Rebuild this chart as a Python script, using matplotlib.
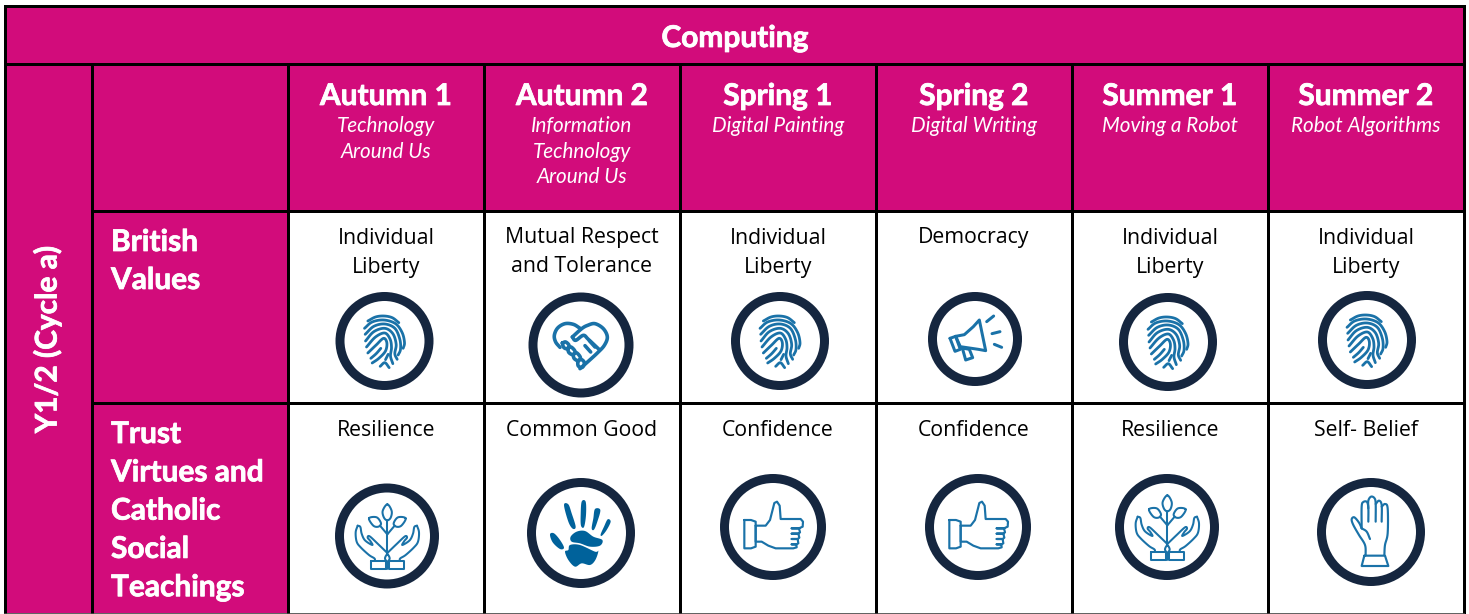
import numpy as np
import matplotlib
matplotlib.use("Agg")
import matplotlib.pyplot as plt
import matplotlib.patheffects as pe
from matplotlib.patches import Rectangle, Ellipse, Polygon

# ---------- content ----------
title = "Computing"
side_label = "Y1/2 (Cycle a)"
terms = ["Autumn 1", "Autumn 2", "Spring 1", "Spring 2", "Summer 1", "Summer 2"]
topics = [["Technology", "Around Us"], ["Information", "Technology", "Around Us"],
          ["Digital Painting"], ["Digital Writing"], ["Moving a Robot"], ["Robot Algorithms"]]
row_labels = [["British", "Values"],
              ["Trust", "Virtues and", "Catholic", "Social", "Teachings"]]
british_values = [["Individual", "Liberty"], ["Mutual Respect", "and Tolerance"],
                  ["Individual", "Liberty"], ["Democracy"],
                  ["Individual", "Liberty"], ["Individual", "Liberty"]]
virtues = [["Resilience"], ["Common Good"], ["Confidence"], ["Confidence"], ["Resilience"], ["Self- Belief"]]
british_icons = ["finger", "heart", "finger", "mega", "finger", "finger"]
virtue_icons = ["plant", "print", "thumb", "thumb", "plant", "hand"]

# ---------- layout (pixels) ----------
W, H = 1469, 614
col_x = [92, 288, 484, 680, 876, 1072, 1268, 1464]
row_y = [6, 64, 211, 403, 613]
left = 5
PINK, RING, BLUE, DEEP = "#d20c7b", "#15263f", "#1a72a8", "#00629b"
british_rings = [(384.5, 341, 49, 49), (581, 345, 52.5, 52.5), (780, 341, 49, 49),
                 (975, 339, 47, 47), (1168, 342, 49, 49), (1367, 340, 49, 49)]
virtue_rings = [(387, 536, 52, 52.5), (581, 533, 54, 55), (773, 527, 53, 53),
                (978, 527, 53, 53), (1167, 527, 52, 53), (1371, 532, 54, 54)]

plt.rcParams["font.family"] = ["Open Sans", "DejaVu Sans"]
fig = plt.figure(figsize=(W / 100, H / 100), dpi=100, facecolor="white")
ax = fig.add_axes([0, 0, 1, 1])
ax.set_xlim(0, W); ax.set_ylim(H, 0); ax.axis("off")


def rect(x0, y0, x1, y1, c):
    ax.add_patch(Rectangle((x0, y0), x1 - x0, y1 - y0, fc=c, ec="none", zorder=1))


rect(left, row_y[0], col_x[-1], row_y[1], PINK)
rect(left, row_y[1], col_x[0], row_y[4], PINK)
rect(col_x[0], row_y[1], col_x[-1], row_y[2], PINK)
rect(col_x[0], row_y[2], col_x[1], row_y[4], PINK)

LW = 3 * 0.72
line = dict(color="black", lw=LW, zorder=2, solid_capstyle="projecting")
ax.plot([left, col_x[-1]], [row_y[0]] * 2, **line)
ax.plot([left, col_x[-1]], [row_y[1]] * 2, **line)
for y in row_y[2:4]:
    ax.plot([col_x[0], col_x[-1]], [y, y], **line)
ax.plot([left, left], [row_y[0], row_y[-1]], color="black", lw=LW, zorder=2)
ax.plot([col_x[-1]] * 2, [row_y[0], row_y[-1]], color="black", lw=LW, zorder=2)
for x in col_x[:-1]:
    ax.plot([x, x], [row_y[1], row_y[-1]], **line)
ax.plot([left, col_x[-1]], [613.5, 613.5], color="#444444", lw=1.2, zorder=2)


# ---------- icon drawing ----------
def smooth(p, closed=False, n=8):
    p = np.asarray(p, float)
    if len(p) < 3:
        return p
    if closed:
        q = np.vstack([p[-1], p, p[0], p[1]])
    else:
        q = np.vstack([2 * p[0] - p[1], p, 2 * p[-1] - p[-2]])
    out = []
    for i in range(1, len(q) - 2):
        t = np.linspace(0, 1, n, endpoint=False)[:, None]
        a, b, c, d = q[i - 1], q[i], q[i + 1], q[i + 2]
        out.append(0.5 * (2 * b + (c - a) * t + (2 * a - 5 * b + 4 * c - d) * t ** 2
                          + (3 * b - a - 3 * c + d) * t ** 3))
    out = np.vstack(out)
    return np.vstack([out, q[-2]])


def mirror(p, cx):
    return [(2 * cx - x, y) for x, y in p]


ICONS = {}
# crop-space traces: centre, reference radius, strokes, fills
ICONS["finger"] = dict(c=(87, 90), r=49, lw=2.3, s=[
    [(37, 30), (60, 18), (85, 15), (110, 20), (130, 35)],
    [(27, 52), (50, 33), (85, 27), (120, 38), (140, 65), (147, 95), (143, 112)],
    [(29, 70), (55, 46), (88, 39), (118, 52), (133, 85), (135, 115), (128, 132)],
    [(30, 90), (55, 62), (88, 52), (112, 68), (122, 100), (118, 128), (125, 145)],
    [(33, 108), (60, 78), (88, 66), (104, 85), (108, 110), (105, 135), (112, 158)],
    [(37, 126), (62, 102), (84, 82), (94, 95), (90, 120), (70, 142), (50, 156)],
    [(46, 142), (62, 128), (76, 112)],
    [(74, 166), (88, 155), (101, 170)],
    [(90, 146), (98, 130)],
])
ICONS["heart"] = dict(c=(108, 99), r=52.5, lw=3.0, s=[
    [(104, 48), (85, 37), (60, 35), (38, 48), (28, 70), (32, 90), (45, 106)],
    [(82, 75), (110, 50), (128, 40), (150, 35), (175, 50), (187, 75), (178, 100), (158, 122),
     (132, 146), (105, 170)],
    [(82, 75), (92, 85), (115, 70), (130, 82), (162, 112)],
    [(150, 105), (133, 86)], [(137, 120), (120, 101)],
    [(52, 93), (62, 90), (72, 100), (66, 110), (56, 106), (52, 93)],
    [(68, 110), (78, 105), (90, 118), (84, 128), (72, 122), (68, 110)],
    [(84, 128), (94, 122), (106, 136), (100, 146), (88, 140), (84, 128)],
    [(98, 148), (108, 142), (118, 152), (112, 166), (100, 162), (98, 148)],
])
_hand = [(38, 92), (32, 112), (35, 140), (47, 157), (72, 180), (88, 190), (90, 197)]
_inner = [(38, 92), (46, 96), (50, 116), (60, 136), (82, 150), (76, 138), (68, 128), (74, 124),
          (100, 148), (127, 174)]
_leaf = [(72, 70), (95, 67), (108, 85), (100, 95), (85, 92)]
ICONS["plant"] = dict(c=(126, 123), r=52, lw=1.7, s=[
    [(127, 76), (127, 178)], [(127, 200), (127, 222)],
    [(105, 92), (127, 118)], [(149, 92), (127, 118)],
    _hand, mirror(_hand, 127), _inner, mirror(_inner, 127),
], closed=[
    [(127, 28), (140, 48), (137, 68), (127, 76), (117, 68), (113, 48)],
    _leaf, mirror(_leaf, 127),
    [(127, 178), (134, 190), (127, 200), (120, 190)],
], poly=[[(78, 197), (122, 197), (122, 222), (78, 222)],
         [(132, 197), (176, 197), (176, 222), (132, 222)]])
ICONS["print"] = dict(c=(123, 114), r=54, fill=[
    [(72, 30), (85, 28), (95, 55), (107, 95), (98, 101), (85, 80)],
    [(125, 20), (137, 20), (138, 60), (132, 96), (123, 92), (122, 60)],
    [(165, 42), (181, 45), (172, 80), (162, 104), (155, 100), (160, 70)],
    [(203, 73), (212, 80), (200, 105), (186, 122), (182, 118), (192, 95)],
    [(30, 118), (42, 115), (60, 135), (72, 158), (60, 162), (38, 142)],
    [(92, 125), (110, 110), (135, 108), (160, 125), (187, 135), (180, 152), (150, 155),
     (120, 145), (95, 140)],
    [(90, 150), (120, 150), (165, 170), (175, 168), (166, 195), (150, 210), (125, 205),
     (105, 215), (85, 195), (75, 170), (85, 165)],
])
ICONS["thumb"] = dict(c=(114, 96), r=53, lw=1.8, poly=[
    [(28, 75), (48, 75), (62, 80), (62, 155), (48, 160), (28, 160)],
    [(62, 92), (92, 92), (105, 75), (114, 40), (118, 24), (126, 20), (134, 32), (137, 72),
     (197, 72), (204, 80), (203, 95), (192, 100), (170, 100), (192, 100), (195, 112), (190, 116),
     (170, 116), (190, 116), (193, 128), (188, 132), (170, 132), (188, 132), (190, 145), (184, 148),
     (170, 148), (184, 148), (185, 157), (175, 160), (122, 160), (100, 152), (80, 140), (62, 140)],
])
ICONS["hand"] = dict(c=(108, 126), r=54, lw=1.8, s=[
    [(92, 196), (90, 165), (72, 135), (55, 105), (50, 88), (58, 82), (72, 98), (80, 115)],
    [(80, 115), (80, 50), (85, 36), (96, 36), (100, 55), (100, 95)],
    [(100, 55), (100, 32), (108, 20), (118, 24), (122, 40), (122, 95)],
    [(122, 42), (132, 32), (140, 45), (140, 95)],
    [(140, 50), (150, 42), (158, 55), (158, 130), (150, 165), (148, 196)],
    [(80, 115), (95, 125), (105, 147)],
], poly=[[(88, 197), (150, 197), (160, 228), (80, 228)]])
ICONS["mega"] = dict(c=(90, 87), r=47, lw=2.5, poly=[
    [(15, 85), (32, 79), (46, 118), (30, 124)],
    [(32, 79), (58, 74), (85, 50), (103, 30), (122, 122), (100, 118), (46, 110)],
    [(52, 114), (62, 150), (83, 143), (73, 118)],
], s=[[(125, 35), (146, 18)], [(141, 71), (165, 65)], [(148, 103), (170, 112)]])


def draw_icon(name, ring):
    cx, cy, rx, ry = ring
    ax.add_patch(Ellipse((cx, cy), 2 * rx - 9, 2 * ry - 9, fc="white", ec=RING, lw=9 * 0.72, zorder=3))
    ic = ICONS[name]
    k = rx / ic["r"]

    def tr(p):
        p = np.asarray(p, float)
        return np.c_[cx + (p[:, 0] - ic["c"][0]) / 3 * k, cy + (p[:, 1] - ic["c"][1]) / 3 * k]

    lw = ic.get("lw", 1.5) * 0.72 * 1.2
    kw = dict(color=BLUE, lw=lw, zorder=4, solid_capstyle="round", solid_joinstyle="round")
    for s in ic.get("s", []):
        q = tr(smooth(s))
        ax.plot(q[:, 0], q[:, 1], **kw)
    for s in ic.get("closed", []):
        q = tr(smooth(s, closed=True))
        ax.plot(q[:, 0], q[:, 1], **kw)
    for s in ic.get("poly", []):
        q = tr(list(s) + [s[0]])
        ax.plot(q[:, 0], q[:, 1], **kw)
    for s in ic.get("fill", []):
        ax.add_patch(Polygon(tr(smooth(s, closed=True)), closed=True, fc=DEEP, ec="none", zorder=4))


for name, ring in zip(british_icons, british_rings):
    draw_icon(name, ring)
for name, ring in zip(virtue_icons, virtue_rings):
    draw_icon(name, ring)

# ---------- text ----------
bold = [pe.withStroke(linewidth=0.55, foreground="white")]
HEAD = dict(family=["Lato", "DejaVu Sans"], fontweight="bold", color="white", zorder=5,
            fontsize=21.5, path_effects=bold)
ax.text(735, 47, title, ha="center", va="baseline", **HEAD)
ax.text(47, 339.5, side_label, ha="center", va="center", rotation=90, **HEAD)
centers = [(a + b) / 2 for a, b in zip(col_x[1:], col_x[2:])]
for i, cx in enumerate(centers):
    ax.text(cx, 105, terms[i], ha="center", va="baseline", **HEAD)
    for j, t in enumerate(topics[i]):
        ax.text(cx, 132 + 25.5 * j, t, ha="center", va="baseline", fontsize=14.9, style="italic",
                family=["Lato", "DejaVu Sans"], color="white", zorder=5)
    for j, t in enumerate(british_values[i]):
        ax.text(cx, 243.5 + 29 * j, t, ha="center", va="baseline", fontsize=15.3, color="black", zorder=5)
    for j, t in enumerate(virtues[i]):
        ax.text(cx, 435.5 + 29 * j, t, ha="center", va="baseline", fontsize=15.3, color="black", zorder=5)
for j, t in enumerate(row_labels[0]):
    ax.text(111, 251 + 38 * j, t, ha="left", va="baseline", **HEAD)
for j, t in enumerate(row_labels[1]):
    ax.text(111, 443 + 38.3 * j, t, ha="left", va="baseline", **HEAD)

fig.savefig("out.png", dpi=100)
